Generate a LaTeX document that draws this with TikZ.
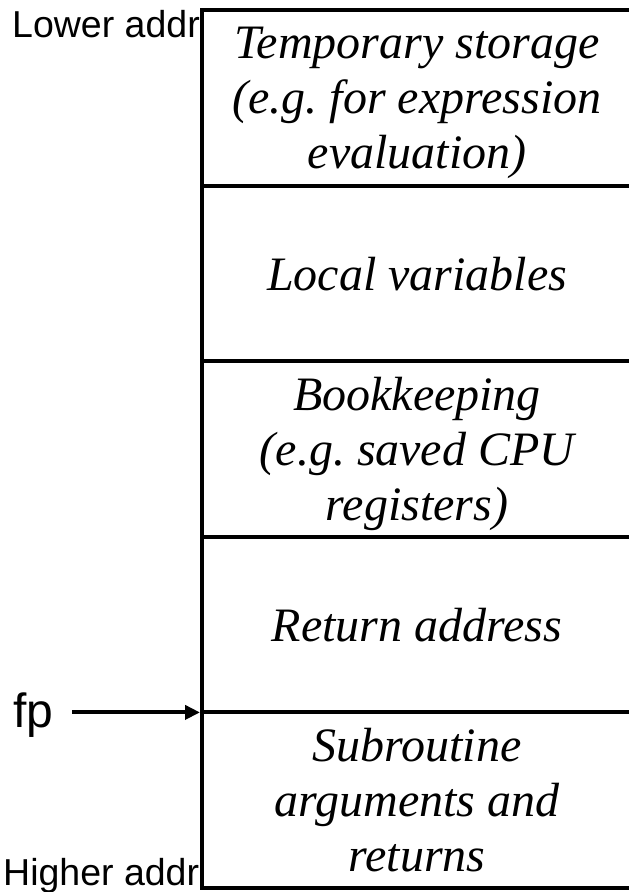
\documentclass[tikz,border=0pt]{standalone}
\usepackage{fontspec}
\setmainfont{Liberation Serif}
\newfontfamily\arialfont{Liberation Sans}
\usetikzlibrary{arrows.meta}
\begin{document}
\begin{tikzpicture}[x=1pt,y=-1pt,
  cell/.style={draw, fill=white, line width=4pt, minimum width=430pt, minimum height=175.6pt,
    inner sep=0pt, outer sep=0pt, align=center, text depth=0pt,
    font=\fontsize{48}{55}\selectfont\itshape},
  addrlabel/.style={font=\arialfont\fontsize{37.5}{40}\selectfont, inner sep=0pt, anchor=base west},
  ptr/.style={line width=4pt, -{Triangle[length=15pt,width=14pt]}}]
\useasboundingbox (0,0) rectangle (629,892);
\clip (0,0) rectangle (629,892);
\node[addrlabel] (lo) at (12,37) {Lower addr};
\node[addrlabel] (hi) at (3,885) {Higher addr};
\node[cell] (c1) at (417,97.8) {Temporary storage\\(e.g.\ for expression\\evaluation)};
\node[cell] (c2) at (417,273.4) {Local variables};
\node[cell] (c3) at (417,449.0) {Bookkeeping\\(e.g.\ saved CPU\\registers)};
\node[cell] (c4) at (417,624.6) {Return address};
\node[cell] (c5) at (417,800.2) {Subroutine\\arguments and\\returns};
\node[font=\arialfont\fontsize{48}{55}\selectfont, inner sep=0pt, anchor=base west] (fp) at (13,727) {fp};
\draw[ptr, shorten <=19pt, shorten >=2pt] (fp.east |- c5.north west) -- (c5.north west);
\end{tikzpicture}
\end{document}
